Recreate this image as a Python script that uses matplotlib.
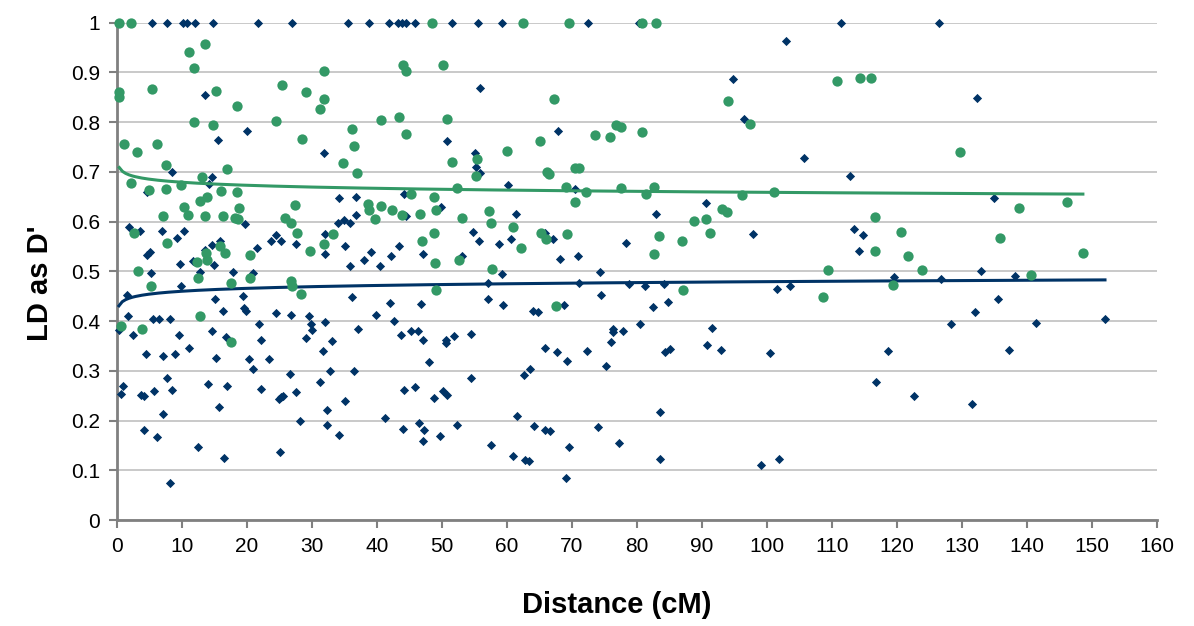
import numpy as np
import matplotlib.pyplot as plt

# blue series (diamonds)
blue_x = [5.4, 7.7, 10.1, 10.7, 12.0, 14.7, 21.7,
          13.5, 20.0, 15.6, 8.4, 14.6, 14.2, 4.6,
          1.9, 3.6, 6.9, 10.3, 9.2, 19.7, 15.9, 14.6, 13.5, 5.0, 4.6, 9.7, 11.7, 14.9, 21.5, 23.7, 24.5, 25.3,
          5.2, 12.7, 17.9, 20.9,
          9.9, 1.6, 15.1, 19.4, 16.3, 19.5, 19.9, 24.5, 1.7, 5.5, 6.5, 8.1, 0.3, 2.4, 9.5, 14.6, 16.8, 21.9, 22.2,
          11.1, 4.5, 7.1, 8.9, 15.2, 20.3, 23.4, 20.9, 26.6, 7.7, 0.9, 0.6, 3.7, 4.2, 5.7, 8.5, 14.0, 16.9, 22.2,
          24.9, 25.3, 25.6, 15.7, 7.0, 4.1, 6.2, 12.4, 16.5, 25.0, 8.1,
          26.9, 35.6, 38.8, 41.8, 43.2, 43.8, 44.5, 45.9, 51.6,
          31.8, 50.8, 34.1, 36.7, 44.2, 49.9, 36.8, 44.5, 34.0, 34.9, 35.8, 32.0, 27.6, 35.0, 32.0, 39.1, 43.4,
          42.2, 38.0, 35.8, 40.4, 47.1, 53.1,
          36.2, 42.0, 46.8, 26.8, 29.5, 29.9, 30.0, 32.0, 39.8, 42.6, 37.0, 29.1, 33.0, 43.7, 45.2, 46.3, 47.0,
          50.6, 50.6, 51.8, 31.7, 48.0, 32.8, 36.4, 31.2, 27.5, 44.2, 45.8, 48.7, 50.1, 50.7, 32.3, 35.1, 28.1,
          32.3, 34.1, 41.3, 44.0, 46.4, 47.2, 47.0, 49.7, 52.3,
          55.5, 59.3, 72.4, 80.3,
          55.9, 67.9, 55.1, 55.2, 55.9, 60.1, 70.5, 61.4, 54.8, 55.7, 58.7, 60.6, 65.9, 67.1, 78.3, 68.1, 70.9,
          59.3, 74.3,
          57.0, 71.0, 78.7, 74.5, 57.0, 59.4, 68.8, 64.0, 64.8, 54.5, 76.3, 76.3, 76.0, 77.9, 80.5, 65.8, 67.7,
          72.3, 69.3, 75.2, 63.6, 62.6, 54.5, 61.6, 64.2, 65.9, 66.6, 74.0, 57.5, 69.6, 77.2, 60.9, 62.8, 63.4, 69.0,
          102.9, 94.7, 96.5, 105.7, 82.9, 90.6, 97.9,
          81.3, 84.1, 82.5, 84.8, 101.5, 103.6, 91.6, 84.3, 85.1, 90.8, 93.0, 100.4, 83.6, 83.6, 99.1, 101.9,
          111.4, 126.4,
          132.3, 112.8, 113.4, 114.8, 114.2, 132.9, 119.5, 126.7, 132.0, 128.3, 118.6, 116.7, 122.6, 131.5,
          134.9, 138.1, 135.5, 141.4, 152.0, 137.2]
blue_y = [1, 1, 1, 1, 1, 1, 1,
          0.855, 0.783, 0.763, 0.70, 0.689, 0.676, 0.659,
          0.59, 0.582, 0.582, 0.581, 0.568, 0.596, 0.561, 0.552, 0.543, 0.539, 0.532, 0.515, 0.521, 0.512, 0.546, 0.561, 0.574, 0.561,
          0.497, 0.499, 0.499, 0.497,
          0.47, 0.453, 0.445, 0.451, 0.421, 0.427, 0.421, 0.416, 0.41, 0.405, 0.405, 0.405, 0.382, 0.373, 0.372, 0.38, 0.368, 0.394, 0.363,
          0.346, 0.333, 0.329, 0.333, 0.325, 0.323, 0.323, 0.303, 0.293, 0.286, 0.27, 0.254, 0.252, 0.25, 0.26, 0.262, 0.274, 0.27, 0.264,
          0.244, 0.247, 0.25, 0.227, 0.213, 0.181, 0.168, 0.147, 0.125, 0.138, 0.074,
          1, 1, 1, 1, 1, 1, 1, 1, 1,
          0.737, 0.762, 0.647, 0.649, 0.655, 0.629, 0.614, 0.612, 0.598, 0.603, 0.598, 0.576, 0.556, 0.55, 0.535, 0.539, 0.55,
          0.531, 0.522, 0.511, 0.511, 0.535, 0.531,
          0.449, 0.437, 0.434, 0.412, 0.41, 0.394, 0.382, 0.398, 0.412, 0.40, 0.384, 0.366, 0.361, 0.372, 0.38, 0.38, 0.363,
          0.363, 0.357, 0.37, 0.341, 0.317, 0.299, 0.30, 0.278, 0.258, 0.262, 0.268, 0.246, 0.26, 0.252, 0.221, 0.24, 0.20,
          0.192, 0.172, 0.206, 0.184, 0.195, 0.182, 0.16, 0.169, 0.192,
          1, 1, 1, 1,
          0.869, 0.782, 0.737, 0.71, 0.698, 0.673, 0.665, 0.616, 0.58, 0.562, 0.555, 0.566, 0.578, 0.566, 0.558, 0.525, 0.53,
          0.495, 0.499,
          0.476, 0.476, 0.474, 0.453, 0.444, 0.433, 0.433, 0.421, 0.418, 0.374, 0.385, 0.378, 0.359, 0.38, 0.394, 0.346, 0.337,
          0.341, 0.319, 0.309, 0.304, 0.291, 0.286, 0.21, 0.19, 0.182, 0.18, 0.188, 0.151, 0.147, 0.156, 0.129, 0.121, 0.119, 0.084,
          0.962, 0.886, 0.806, 0.728, 0.616, 0.637, 0.576,
          0.471, 0.475, 0.428, 0.439, 0.465, 0.471, 0.386, 0.337, 0.345, 0.353, 0.343, 0.335, 0.217, 0.123, 0.11, 0.123,
          1, 1,
          0.849, 0.692, 0.586, 0.574, 0.541, 0.50, 0.489, 0.484, 0.418, 0.394, 0.341, 0.278, 0.249, 0.233,
          0.648, 0.49, 0.445, 0.396, 0.404, 0.343]

# green series (circles)
green_x = [0.35, 2.2, 13.5, 11.1, 11.9, 0.35, 0.35, 5.4, 15.2, 18.5, 25.4, 11.9, 14.7, 24.4, 1.0, 6.2, 3.0, 7.5,
           16.9, 13.0, 2.2, 4.9, 7.5, 9.9, 13.9, 12.8, 16.0, 18.5, 18.7, 10.3, 7.1, 10.9, 13.5, 16.3, 18.1, 18.6,
           25.8, 2.6, 7.7, 15.8, 16.6, 13.7, 13.9, 12.3, 20.5, 3.2,
           12.4, 5.3, 17.6, 20.4, 0.56, 3.8, 12.8, 17.5,
           48.4,
           31.9, 44.0, 44.4, 50.2, 29.0, 31.8, 31.3, 40.6, 43.4, 50.8, 36.1, 28.5, 36.4, 44.5, 34.7, 51.6, 36.9,
           52.3, 45.2, 48.8, 27.4, 38.6, 38.7, 40.6, 42.3, 43.9, 46.6, 49.1, 39.7, 53.1, 26.8, 27.7, 33.2, 48.7,
           46.9, 31.8, 29.7, 48.9, 52.6,
           26.7, 26.9, 28.3, 49.0,
           62.4, 69.5,
           67.3, 76.7, 77.6, 73.5, 75.9, 80.7, 65.1, 60.0, 55.4, 55.2, 66.1, 66.5, 70.5, 71.1, 69.1, 72.2, 77.5,
           70.4, 57.2, 57.5, 60.9, 65.3, 66.0, 69.2, 62.2, 57.7, 67.6,
           80.7, 82.9,
           94.0, 97.4, 82.6, 81.4, 96.2, 101.1, 93.1, 93.8, 90.6, 88.7, 91.2, 83.4, 86.9, 82.6, 87.1,
           110.7, 114.3, 116.0, 129.7, 116.6, 120.6, 116.6, 121.7, 109.4, 123.9, 108.6, 119.4,
           138.8, 146.1, 135.9, 148.6, 140.6]
green_y = [1.0, 1.0, 0.956, 0.94, 0.909, 0.86, 0.85, 0.867, 0.862, 0.832, 0.875, 0.80, 0.795, 0.803, 0.756, 0.756, 0.74, 0.713,
           0.705, 0.689, 0.677, 0.663, 0.665, 0.674, 0.649, 0.641, 0.661, 0.659, 0.627, 0.629, 0.612, 0.613, 0.612, 0.612, 0.608, 0.605,
           0.608, 0.577, 0.558, 0.55, 0.536, 0.537, 0.523, 0.519, 0.532, 0.50,
           0.487, 0.47, 0.477, 0.487, 0.39, 0.385, 0.41, 0.358,
           1.0,
           0.903, 0.915, 0.903, 0.915, 0.86, 0.846, 0.827, 0.805, 0.811, 0.807, 0.787, 0.766, 0.752, 0.776, 0.718, 0.72, 0.697,
           0.667, 0.655, 0.65, 0.634, 0.636, 0.624, 0.632, 0.624, 0.614, 0.615, 0.624, 0.606, 0.607, 0.598, 0.578, 0.576, 0.577,
           0.562, 0.554, 0.54, 0.516, 0.523,
           0.48, 0.47, 0.454, 0.462,
           1.0, 1.0,
           0.846, 0.795, 0.791, 0.775, 0.77, 0.781, 0.761, 0.742, 0.725, 0.691, 0.699, 0.695, 0.707, 0.707, 0.669, 0.66, 0.667,
           0.64, 0.622, 0.597, 0.589, 0.577, 0.565, 0.575, 0.547, 0.505, 0.43,
           1.0, 1.0,
           0.843, 0.797, 0.669, 0.655, 0.654, 0.659, 0.626, 0.619, 0.606, 0.601, 0.578, 0.571, 0.562, 0.534, 0.462,
           0.882, 0.888, 0.888, 0.74, 0.61, 0.58, 0.54, 0.53, 0.503, 0.503, 0.448, 0.472,
           0.627, 0.639, 0.567, 0.537, 0.493]

blue_c = '#003366'
green_c = '#339966'

plt.rcParams['font.family'] = ['Liberation Sans', 'DejaVu Sans']

fig = plt.figure(figsize=(11.94, 6.26), dpi=100)
ax = fig.add_axes([0.098, 0.169, 0.871, 0.795])


def log_trend(x, y):
    # logarithmic trendline, like the spreadsheet one
    x = np.asarray(x, float)
    y = np.asarray(y, float)
    b, a = np.polyfit(np.log(x), y, 1)
    xs = np.linspace(x.min(), x.max(), 300)
    return xs, a + b * np.log(xs)


ax.scatter(blue_x, blue_y, marker='D', s=22, color=blue_c, linewidths=0, zorder=3, clip_on=False)
bx, by = log_trend(blue_x, blue_y)
ax.plot(bx, by, color=blue_c, lw=2.2, zorder=4)
ax.scatter(green_x, green_y, marker='o', s=55, color=green_c, linewidths=0, zorder=5, clip_on=False)
gx, gy = log_trend(green_x, green_y)
ax.plot(gx, gy, color=green_c, lw=2.2, zorder=6)

ax.set_xlim(0, 160)
ax.set_ylim(0, 1)
ax.set_xticks(np.arange(0, 161, 10))
ax.set_yticks(np.arange(0, 1.01, 0.1))
ax.set_yticklabels(['0', '0.1', '0.2', '0.3', '0.4', '0.5', '0.6', '0.7', '0.8', '0.9', '1'])
ax.yaxis.grid(True, color='#c0c0c0', lw=1.2)
ax.set_axisbelow(True)

for s in ['top', 'right']:
    ax.spines[s].set_visible(False)
for s in ['left', 'bottom']:
    ax.spines[s].set_color('#808080')
    ax.spines[s].set_linewidth(2)
ax.tick_params(axis='both', direction='out', length=6, width=1.5, color='#808080', labelsize=15, pad=6)

ax.set_xlabel('Distance (cM)', fontsize=21, fontweight='bold', va='center')
ax.set_ylabel("LD as D'", fontsize=21, fontweight='bold', va='center')
ax.xaxis.set_label_coords(0.481, -0.171)
ax.yaxis.set_label_coords(-0.074, 0.477)

plt.savefig('out.png', dpi=100)
